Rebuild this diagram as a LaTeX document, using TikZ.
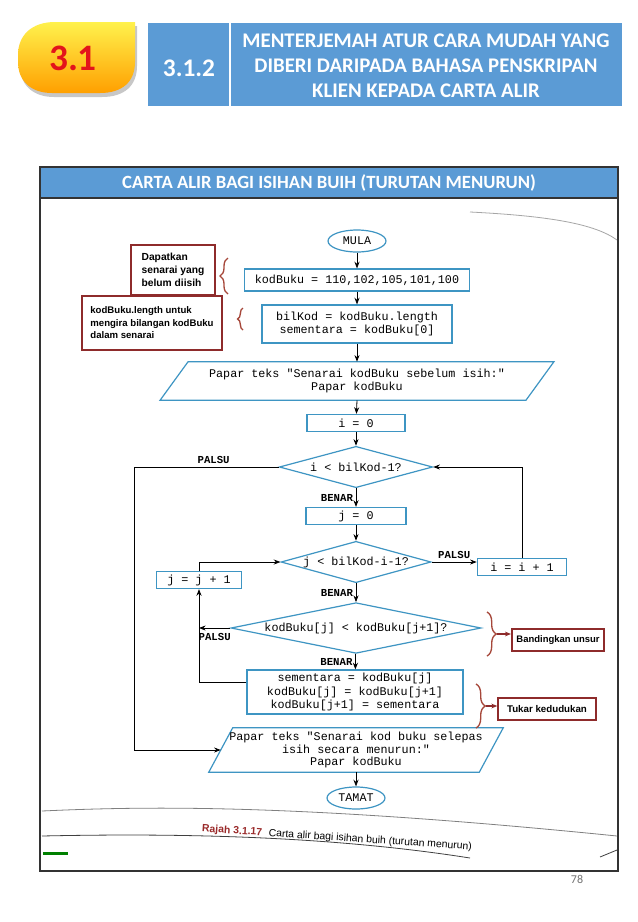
\documentclass[tikz,border=0pt]{standalone}
\usepackage{fontspec}
\setmainfont{Liberation Sans}
\newfontfamily\calibri{Carlito}
\newfontfamily\monof{Liberation Mono}
\newfontfamily\arialf{Liberation Sans}
\usetikzlibrary{shapes.geometric,arrows.meta,decorations.pathreplacing,calc}
\definecolor{hblue}{HTML}{5B9BD5}
\definecolor{fcblue}{HTML}{3E95C3}
\definecolor{annred}{HTML}{8E2B2B}
\definecolor{bracecol}{HTML}{A6473A}
\definecolor{titred}{HTML}{E3141B}
\definecolor{capred}{HTML}{9A2A2A}
\definecolor{framecol}{HTML}{333333}
\begin{document}
\begin{tikzpicture}[x=0.75pt,y=-0.75pt,
  fcbox/.style={draw=fcblue, line width=0.9pt, fill=white, font=\monof\fontsize{8.8}{10}\selectfont, inner sep=0pt, align=center},
  termnode/.style={fcbox, ellipse},
  decnode/.style={fcbox, diamond, aspect=4},
  iobody/.style={font=\monof\fontsize{8.8}{9.2}\selectfont, inner sep=0pt, align=center},
  fcline/.style={draw=fcblue, line width=0.9pt, fill=white},
  arr/.style={-{Stealth[length=5pt,width=3.8pt]}, line width=0.6pt, black},
  lbl/.style={font=\monof\bfseries\fontsize{8}{9}\selectfont, inner sep=2pt, black},
  annbox/.style={draw=annred, line width=1.5pt, fill=white, font=\arialf\bfseries\fontsize{7.2}{9.4}\selectfont, align=left, inner sep=3pt},
  bracedec/.style={draw=bracecol, line width=1pt, decorate},
  annarr/.style={-{Stealth[length=4.5pt,width=3.5pt]}, line width=0.8pt, annred},
  pageline/.style={line width=0.6pt}
]
\useasboundingbox (0,0) rectangle (638,922);
\fill[white] (0,0) rectangle (638,922);

% ---- header ----
\fill[black, opacity=0.22] (137,26) -- (137,66) .. controls (137,86) and (124,97) .. (102,97) -- (54,97) .. controls (32,97) and (20,84) .. (20,66) -- (20,59) .. controls (20,39) and (34,26) .. (57,26) -- cycle;
\shade[top color=yellow!85!orange!70!white, bottom color=orange!75!yellow] (135,22) -- (135,62) .. controls (135,82) and (122,93) .. (100,93) -- (52,93) .. controls (30,93) and (18,80) .. (18,62) -- (18,55) .. controls (18,35) and (32,22) .. (55,22) -- cycle;
\node[font=\calibri\bfseries\fontsize{28}{30}\selectfont, text=titred] (sec) at (73,58) {3.1};
\fill[hblue] (148,23) rectangle (229,106);
\fill[hblue] (231,23) rectangle (622,106);
\node[font=\calibri\bfseries\fontsize{19}{22}\selectfont, text=white] (sub) at (189,68) {3.1.2};
\node[font=\calibri\bfseries\fontsize{15.6}{18.75}\selectfont, text=white, align=center] (title) at (426,66) {MENTERJEMAH ATUR CARA MUDAH YANG\\DIBERI DARIPADA BAHASA PENSKRIPAN\\KLIEN KEPADA CARTA ALIR};

% ---- frame ----
\draw[framecol, line width=1.1pt, fill=hblue] (40,167) rectangle (618,198);
\draw[framecol, line width=1.1pt] (40,167) rectangle (618,871);
\node[font=\calibri\bfseries\fontsize{14}{16}\selectfont, text=white] (band) at (329,183) {CARTA ALIR BAGI ISIHAN BUIH (TURUTAN MENURUN)};
\node[font=\calibri\fontsize{9}{10}\selectfont, text=black!55] (pg) at (577,879) {78};

% page edge curves
\draw[pageline, black!35] (470,212) .. controls (550,216) and (595,224) .. (617,240);
\draw[pageline, black!50] (42,811) .. controls (150,806) and (300,804) .. (617,836);
\draw[pageline, black!75] (42,836) .. controls (180,833) and (330,836) .. (470,858);
\draw[pageline, black!75] (600,857) -- (617,850);
\fill[green!50!black] (43,852) rectangle (68,855);

% ---- flowchart nodes ----
\node[termnode, minimum width=43.5pt, minimum height=16.5pt] (mula) at (357,241) {MULA};
\node[fcbox, minimum width=169pt, minimum height=16.5pt] (kod) at (357,280) {kodBuku = 110,102,105,101,100};
\node[fcbox, minimum width=142.5pt, minimum height=28.5pt] (bil) at (357,324) {bilKod = kodBuku.length\\sementara = kodBuku[0]};
\node[iobody, minimum width=274pt, minimum height=28.5pt] (p1) at (357,381) {};
\node[fcbox, minimum width=73.5pt, minimum height=12.75pt] (i0) at (356,423) {i = 0};
\node[decnode, minimum width=115pt, minimum height=31pt] (d1) at (356,467) {i < bilKod-1?};
\node[fcbox, minimum width=75pt, minimum height=12.75pt] (j0) at (356,516) {j = 0};
\node[decnode, minimum width=112.5pt, minimum height=31pt] (d2) at (356,562) {j < bilKod-i-1?};
\node[fcbox, minimum width=67pt, minimum height=12.75pt] (ii) at (522,567) {i = i + 1};
\node[fcbox, minimum width=64pt, minimum height=12.75pt] (jj) at (199,580) {j = j + 1};
\node[decnode, aspect=5, minimum width=187.5pt, minimum height=38pt] (d3) at (356,628) {kodBuku[j] < kodBuku[j+1]?};
\node[fcbox, minimum width=162pt, minimum height=33pt] (swap) at (355,692) {sementara = kodBuku[j]\\kodBuku[j] = kodBuku[j+1]\\kodBuku[j+1] = sementara};
\node[iobody, minimum width=202.5pt, minimum height=33pt] (p2) at (356,750) {};
\node[termnode, minimum width=43.5pt, minimum height=16.5pt] (tamat) at (356,798) {TAMAT};

\draw[fcline] ($(p1.south west)+(-14,0)$) -- ($(p1.north west)+(14,0)$) -- ($(p1.north east)+(14,0)$) -- ($(p1.south east)+(-14,0)$) -- cycle;
\node[iobody] (p1t) at (p1) {Papar teks "Senarai kodBuku sebelum isih:"\\Papar kodBuku};
\draw[fcline] ($(p2.south west)+(-12,0)$) -- ($(p2.north west)+(12,0)$) -- ($(p2.north east)+(12,0)$) -- ($(p2.south east)+(-12,0)$) -- cycle;
\node[iobody] (p2t) at (p2) {Papar teks "Senarai kod buku selepas\\isih secara menurun:"\\Papar kodBuku};

\coordinate (L1) at (134,467);

% ---- connectors ----
\draw[arr] (mula) -- (kod);
\draw[arr] (kod) -- (bil);
\draw[arr] (bil) -- (p1.north);
\draw[arr] (p1.south) -- (i0);
\draw[arr] (i0) -- (d1);
\draw[arr] (d1) -- node[lbl, left] {BENAR} (j0);
\draw[arr] (j0) -- (d2);
\draw[arr] (d2) -- node[lbl, left] {BENAR} (d3);
\draw[arr] (d3) -- node[lbl, left] {BENAR} (swap);
\draw[arr] (d2.east) -- node[lbl, above] {PALSU} (d2.east -| ii.west);
\draw[arr] (ii.north) |- (d1.east);
\draw[arr] (jj.north) |- (d2.west);
\draw[arr] (d3.west) -- node[lbl, below, yshift=-2pt] {PALSU} (d3.west -| jj.south);
\draw[arr] ([yshift=7.5pt]swap.west) -| (jj.south);
\draw[arr] (d1.west) -- node[lbl, above, pos=0.45] {PALSU} (L1) |- (p2.west);
\draw[arr] (p2.south) -- (tamat);

% ---- annotations ----
\node[annbox, font=\arialf\bfseries\fontsize{7.7}{9.6}\selectfont, minimum width=63pt, minimum height=37.5pt] (ann1) at (173,270) {Dapatkan\\senarai yang\\belum diisih};
\node[annbox, minimum width=105pt, minimum height=40pt] (ann2) at (152,323) {kodBuku.length untuk\\mengira bilangan kodBuku\\dalam senarai};
\node[annbox, font=\arialf\bfseries\fontsize{7.1}{8}\selectfont, minimum width=69pt, minimum height=17pt] (bandu) at (558,640) {Bandingkan unsur};
\node[annbox, font=\arialf\bfseries\fontsize{7.3}{8}\selectfont, minimum width=73pt, minimum height=16.5pt] (tukar) at (547,709) {Tukar kedudukan};

\draw[bracedec, decoration={brace, amplitude=6pt}] (228,294) -- (228,258);
\draw[bracedec, decoration={brace, amplitude=4pt}] (243,330) -- (243,308);
\draw[bracedec, decoration={brace, amplitude=7pt}] (487,612) -- (487,656);
\draw[bracedec, decoration={brace, amplitude=7pt}] (476,684) -- (476,728);
\coordinate (b3) at (497,634);
\coordinate (b4) at (486,706);
\draw[annarr] (b3) -- (b3 -| bandu.west);
\draw[annarr] (b4) -- (b4 -| tukar.west);

% ---- caption ----
\node[font=\arialf\fontsize{7.8}{9}\selectfont, rotate=-3.8] (cap) at (337,838) {\textcolor{capred}{\bfseries Rajah 3.1.17}\hspace{5pt}Carta alir bagi isihan buih (turutan menurun)};
\end{tikzpicture}
\end{document}
